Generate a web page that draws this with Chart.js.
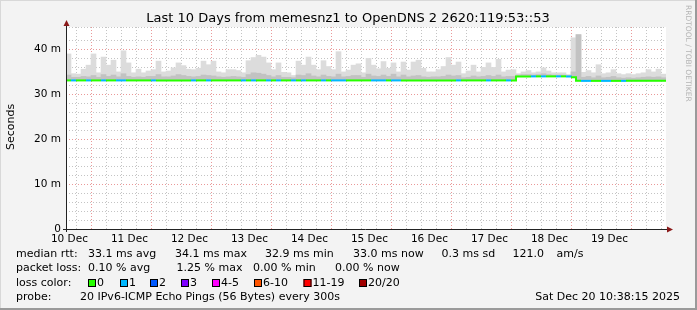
<!DOCTYPE html>
<html>
<head>
<meta charset="utf-8">
<script src="https://cdn.jsdelivr.net/npm/chart.js@4/dist/chart.umd.min.js"></script>
<style>
  html, body { margin: 0; padding: 0; background: #f3f3f3; }
  canvas { display: block; }
</style>
</head>
<body>
<canvas id="myChart" width="697" height="310"></canvas>
<script>
// 2 hour bins, from Dec 10 10:38 to Dec 20 10:38
const dayLabels = ['10 Dec', '11 Dec', '12 Dec', '13 Dec', '14 Dec', '15 Dec', '16 Dec', '17 Dec', '18 Dec', '19 Dec'];
const firstNoon = 1.3625; // hours from start to Dec 10 12:00

// median rtt (ms)
const median = [
  33.1, 33.1, 33.1, 33.1, 33.1, 33.1, 33.1, 33.1, 33.1, 33.1,
  33.1, 33.1, 33.1, 33.1, 33.1, 33.1, 33.1, 33.1, 33.1, 33.1,
  33.1, 33.1, 33.1, 33.1, 33.1, 33.1, 33.1, 33.1, 33.1, 33.1,
  33.1, 33.1, 33.1, 33.1, 33.1, 33.1, 33.1, 33.1, 33.1, 33.1,
  33.1, 33.1, 33.1, 33.1, 33.1, 33.1, 33.1, 33.1, 33.1, 33.1,
  33.1, 33.1, 33.1, 33.1, 33.1, 33.1, 33.1, 33.1, 33.1, 33.1,
  33.1, 33.1, 33.1, 33.1, 33.1, 33.1, 33.1, 33.1, 33.1, 33.1,
  33.1, 33.1, 33.1, 33.1, 33.1, 33.1, 33.1, 33.1, 33.1, 33.1,
  33.1, 33.1, 33.1, 33.1, 33.1, 33.1, 33.1, 33.1, 33.1, 33.1,
  34.0, 34.0, 34.0, 34.0, 34.0, 34.0, 34.0, 34.0, 34.0, 34.0,
  34.0, 33.8, 33.0, 33.0, 33.0, 33.0, 33.0, 33.0, 33.0, 33.0,
  33.0, 33.0, 33.0, 33.0, 33.0, 33.0, 33.0, 33.0, 33.0, 33.0
];

// max of the smoke (ms)
const smokeTop = [
  39.0, 34.6, 34.5, 35.6, 36.5, 39.0, 34.8, 38.3, 36.5, 37.6,
  35.0, 39.7, 37.0, 34.8, 35.6, 34.8, 35.2, 35.5, 37.4, 35.0,
  35.2, 35.9, 37.0, 36.4, 35.6, 35.5, 35.8, 37.4, 36.6, 37.4,
  35.0, 34.8, 35.5, 35.5, 35.3, 34.8, 37.5, 38.2, 38.7, 38.3,
  37.0, 35.5, 37.0, 34.9, 34.8, 34.2, 37.4, 36.5, 38.3, 36.5,
  35.5, 37.5, 36.2, 35.5, 39.5, 35.0, 35.4, 36.5, 36.8, 34.8,
  38.0, 36.5, 35.7, 37.3, 35.8, 37.0, 35.0, 37.2, 35.4, 37.2,
  37.6, 35.8, 35.0, 35.0, 35.5, 36.2, 38.2, 36.5, 37.2, 34.6,
  35.2, 36.5, 35.0, 36.0, 37.0, 36.0, 37.8, 35.0, 35.4, 35.5,
  34.6, 35.0, 35.3, 34.8, 35.0, 35.9, 35.2, 34.8, 34.8, 34.8,
  34.4, 42.6, 43.3, 34.9, 35.3, 34.8, 36.6, 34.6, 34.8, 35.5,
  34.6, 34.4, 34.6, 34.4, 34.6, 34.8, 35.5, 35.0, 35.6, 34.5
];

// inner (darker) part of the smoke (ms)
const smokeMid = [
  34.3, 33.8, 33.8, 34.0, 33.9, 34.2, 33.8, 34.4, 34.0, 34.3,
  33.9, 34.6, 34.0, 33.8, 33.9, 33.8, 34.0, 34.0, 34.4, 33.9,
  33.9, 34.1, 34.4, 34.2, 34.0, 33.9, 34.0, 34.3, 34.2, 34.1,
  33.9, 33.8, 33.9, 34.0, 33.9, 33.8, 34.4, 34.8, 34.7, 34.5,
  34.2, 33.9, 34.2, 33.8, 33.8, 33.7, 34.3, 34.2, 34.6, 34.1,
  33.9, 34.3, 34.0, 33.9, 34.5, 33.9, 34.0, 34.2, 34.2, 33.8,
  34.5, 34.1, 34.0, 34.3, 34.0, 34.5, 33.9, 34.3, 33.9, 34.1,
  34.2, 33.9, 33.8, 33.9, 33.9, 34.0, 34.3, 34.1, 34.2, 33.7,
  33.8, 34.1, 33.9, 34.0, 34.2, 34.0, 34.3, 33.9, 34.0, 34.0,
  34.3, 34.4, 34.4, 34.3, 34.4, 34.6, 34.4, 34.3, 34.3, 34.3,
  34.2, 35.0, 43.3, 33.8, 34.0, 33.7, 34.1, 33.7, 33.8, 34.0,
  33.7, 33.6, 33.7, 33.6, 33.7, 33.8, 33.9, 33.8, 33.9, 33.7
];

// lost pings per bin (index into the loss colours)
const loss = [
  0, 1, 0, 0, 1, 0, 0, 1, 0, 0,
  1, 1, 0, 0, 0, 0, 0, 1, 0, 0,
  0, 0, 0, 0, 0, 1, 0, 0, 1, 0,
  0, 0, 0, 0, 0, 1, 0, 1, 0, 0,
  1, 0, 1, 0, 0, 1, 0, 1, 0, 0,
  0, 1, 0, 1, 1, 1, 0, 0, 0, 0,
  0, 1, 1, 1, 0, 1, 1, 0, 0, 0,
  0, 0, 0, 0, 0, 0, 0, 0, 1, 0,
  0, 0, 0, 0, 1, 0, 0, 0, 1, 0,
  0, 0, 0, 1, 0, 1, 0, 0, 1, 0,
  1, 0, 0, 1, 1, 0, 0, 1, 1, 0,
  0, 1, 0, 0, 0, 0, 0, 0, 0, 0
];

const lossLabels = ['0', '1', '2', '3', '4-5', '6-10', '11-19', '20/20'];
const lossColors = ['#26ff00', '#00b8ff', '#0059ff', '#7e00ff', '#ff00ff', '#ff5500', '#ff0000', '#a10000'];

const rttStats = ['33.1 ms avg', '34.1 ms max', '32.9 ms min', '33.0 ms now', '0.3 ms sd', '121.0', 'am/s'];
const lossStats = ['0.10 % avg', '1.25 % max', '0.00 % min', '0.00 % now'];
const titleText = 'Last 10 Days from memesnz1 to OpenDNS 2 2620:119:53::53';
const probeText = '20 IPv6-ICMP Echo Pings (56 Bytes) every 300s';
const dateText = 'Sat Dec 20 10:38:15 2025';

const FONT = '"DejaVu Sans", sans-serif';
const majorGrid = 'rgba(225,110,110,0.7)';
const minorGrid = '#c4c4c4';

const tickHours = [];
for (let k = 0; k < 40; k++) tickHours.push(firstNoon + k * 6);

const lineData = median.map((v, i) => ({ x: i * 2, y: v }));
lineData.push({ x: 240, y: median[median.length - 1] });
const lightData = smokeTop.map((v, i) => ({ x: i * 2 + 1, y: [median[i], v] }));
const darkData = smokeMid.map((v, i) => ({ x: i * 2 + 1, y: [median[i], v] }));

const decor = {
  id: 'decor',
  beforeDraw(chart) {
    const { ctx, chartArea: a } = chart;
    ctx.save();
    ctx.fillStyle = '#f3f3f3';
    ctx.fillRect(0, 0, 697, 310);
    ctx.fillStyle = '#fff';
    ctx.fillRect(a.left, a.top, a.right - a.left, a.bottom - a.top);
    // frame
    ctx.fillStyle = '#d8d8d8';
    ctx.fillRect(0, 0, 697, 1);
    ctx.fillRect(0, 0, 1, 310);
    ctx.fillStyle = '#9a9a9a';
    ctx.fillRect(0, 308, 697, 2);
    ctx.fillRect(695, 0, 2, 310);
    ctx.restore();
  },
  afterDraw(chart) {
    const { ctx, chartArea: a } = chart;
    ctx.save();
    // axes
    ctx.strokeStyle = '#222';
    ctx.lineWidth = 1;
    ctx.beginPath();
    ctx.moveTo(a.left + 0.5, a.bottom + 3);
    ctx.lineTo(a.left + 0.5, 23);
    ctx.moveTo(a.left - 3, a.bottom + 0.5);
    ctx.lineTo(a.right + 2, a.bottom + 0.5);
    ctx.stroke();
    ctx.fillStyle = '#8b1a1a';
    ctx.beginPath();
    ctx.moveTo(a.left + 0.5, 20);
    ctx.lineTo(a.left - 2.5, 26);
    ctx.lineTo(a.left + 3.5, 26);
    ctx.closePath();
    ctx.fill();
    ctx.beginPath();
    ctx.moveTo(a.right + 7, a.bottom + 0.5);
    ctx.lineTo(a.right + 1, a.bottom - 2.5);
    ctx.lineTo(a.right + 1, a.bottom + 3.5);
    ctx.closePath();
    ctx.fill();

    // title
    ctx.fillStyle = '#000';
    ctx.font = '13px ' + FONT;
    ctx.textAlign = 'center';
    ctx.textBaseline = 'middle';
    ctx.fillText(titleText, 348, 19);

    // y title
    ctx.save();
    ctx.translate(11, 127);
    ctx.rotate(-Math.PI / 2);
    ctx.font = '11px ' + FONT;
    ctx.fillText('Seconds', 0, 0);
    ctx.restore();

    // watermark
    ctx.save();
    ctx.translate(688, 5);
    ctx.rotate(Math.PI / 2);
    ctx.font = '7.5px ' + FONT;
    ctx.textAlign = 'left';
    ctx.fillStyle = '#b4b4b4';
    ctx.fillText('RRDTOOL / TOBI OETIKER', 0, 0);
    ctx.restore();

    // legend lines
    ctx.font = '11px ' + FONT;
    ctx.textAlign = 'left';
    ctx.fillStyle = '#000';
    const rttX = [88, 175, 265, 353, 441.5, 512.5, 556.5];
    ctx.fillText('median rtt:', 16, 254);
    rttStats.forEach((s, i) => ctx.fillText(s, rttX[i], 254));
    const lossX = [88, 176.5, 253, 335];
    ctx.fillText('packet loss:', 16, 268.5);
    lossStats.forEach((s, i) => ctx.fillText(s, lossX[i], 268.5));
    ctx.fillText('loss color:', 16, 283);
    const boxX = [88, 120, 150, 181, 212, 254, 303.5, 359];
    lossLabels.forEach((s, i) => {
      ctx.fillStyle = lossColors[i];
      ctx.fillRect(boxX[i], 279, 8, 8);
      ctx.strokeStyle = '#000';
      ctx.strokeRect(boxX[i] + 0.5, 279.5, 7, 7);
      ctx.fillStyle = '#000';
      ctx.fillText(s, boxX[i] + 9, 283);
    });
    ctx.fillText('probe:', 16, 297);
    ctx.fillText(probeText, 80, 297);
    ctx.textAlign = 'right';
    ctx.fillText(dateText, 680, 297);
    ctx.restore();
  }
};

const ctx = document.getElementById('myChart').getContext('2d');
const chart = new Chart(ctx, {
  type: 'bar',
  data: {
    datasets: [
      {
        type: 'line',
        data: lineData,
        stepped: true,
        borderWidth: 2,
        borderColor: lossColors[0],
        pointRadius: 0,
        segment: { borderColor: c => lossColors[loss[c.p0DataIndex]] },
        order: 0
      },
      {
        data: darkData,
        backgroundColor: '#c2c2c2',
        grouped: false,
        barPercentage: 1,
        categoryPercentage: 1,
        order: 2
      },
      {
        data: lightData,
        backgroundColor: '#dcdcdc',
        grouped: false,
        barPercentage: 1,
        categoryPercentage: 1,
        order: 3
      }
    ]
  },
  options: {
    responsive: false,
    animation: false,
    events: [],
    layout: { padding: { left: 0, top: 27, right: 31, bottom: 61 } },
    plugins: { legend: { display: false }, tooltip: { enabled: false } },
    scales: {
      x: {
        type: 'linear',
        min: 0,
        max: 240,
        offset: false,
        afterBuildTicks: s => { s.ticks = tickHours.map(v => ({ value: v })); },
        afterFit: s => { s.height = 20; },
        ticks: {
          autoSkip: false,
          maxRotation: 0,
          padding: 4,
          color: '#000',
          font: { family: FONT, size: 10.5 },
          callback: (v, i) => (i % 4 === 0 ? dayLabels[i / 4] : '')
        },
        grid: { drawTicks: false, lineWidth: 1, color: c => (c.index % 4 === 2 ? majorGrid : minorGrid) },
        border: { display: false, dash: [1, 2] }
      },
      y: {
        type: 'linear',
        min: 0,
        max: 45,
        afterFit: s => { s.width = 66; },
        ticks: {
          stepSize: 2,
          autoSkip: false,
          padding: 5,
          color: '#000',
          font: { family: FONT, size: 10.5 },
          callback: v => (v % 10 === 0 ? (v === 0 ? '0' : v + ' m') : '')
        },
        grid: { drawTicks: false, lineWidth: 1, color: c => (c.tick && c.tick.value % 10 === 0 ? majorGrid : minorGrid) },
        border: { display: false, dash: [1, 2] }
      }
    }
  },
  plugins: [decor]
});
</script>
</body>
</html>
